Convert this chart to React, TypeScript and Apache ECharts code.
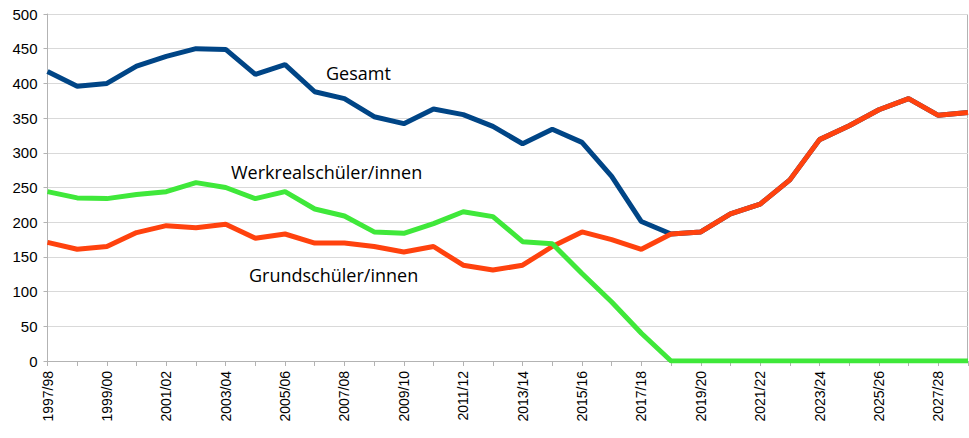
import React, { useEffect, useRef } from "react";
import * as echarts from "echarts";

const years: string[] = [
  "1997/98","1998/99","1999/00","2000/01","2001/02","2002/03","2003/04","2004/05",
  "2005/06","2006/07","2007/08","2008/09","2009/10","2010/11","2011/12","2012/13",
  "2013/14","2014/15","2015/16","2016/17","2017/18","2018/19","2019/20","2020/21",
  "2021/22","2022/23","2023/24","2024/25","2025/26","2026/27","2027/28","2028/29",
];

const gesamt: number[] = [
  417, 396, 400, 425, 439, 450, 449, 413, 427, 388, 378, 352, 342, 363, 355, 338,
  313, 334, 315, 266, 201, 183, 186, 212, 226, 261, 319, 339, 362, 378, 354, 358,
];

const grundschueler: number[] = [
  171, 161, 165, 185, 195, 192, 197, 177, 183, 170, 170, 165, 157, 165, 138, 131,
  138, 165, 186, 175, 161, 183, 186, 212, 226, 261, 319, 339, 362, 378, 354, 358,
];

const werkrealschueler: number[] = [
  244, 235, 234, 240, 244, 257, 250, 234, 244, 219, 209, 186, 184, 198, 215, 208,
  172, 169, 126, 85, 40, 0, 0, 0, 0, 0, 0, 0, 0, 0, 0, 0,
];

const seriesNames = ["Gesamt", "Werkrealschüler/innen", "Grundschüler/innen"];

export default function App() {
  const ref = useRef<HTMLDivElement>(null);
  useEffect(() => {
    if (!ref.current) return;
    const chart = echarts.init(ref.current, null, { renderer: "svg" });
    const labelFont = "'Open Sans', 'Noto Sans', sans-serif";
    chart.setOption({
      animation: false,
      backgroundColor: "#ffffff",
      grid: { left: 47.5, right: 1, top: 14, bottom: 77, containLabel: false },
      xAxis: {
        type: "category",
        data: years,
        boundaryGap: false,
        axisLine: { show: true, lineStyle: { color: "#b3b3b3", width: 1 } },
        axisTick: { show: true, interval: 0, length: 5, lineStyle: { color: "#b3b3b3" } },
        axisLabel: {
          interval: 1,
          rotate: 90,
          margin: 10,
          fontSize: 14,
          color: "#000000",
          fontFamily: "'Liberation Sans', Arial, sans-serif",
        },
        splitLine: { show: false },
      },
      yAxis: {
        type: "value",
        min: 0,
        max: 500,
        interval: 50,
        axisLine: { show: true, lineStyle: { color: "#b3b3b3", width: 1 } },
        axisTick: { show: true, length: 4, lineStyle: { color: "#b3b3b3" } },
        axisLabel: {
          fontSize: 15,
          margin: 10,
          color: "#000000",
          fontFamily: "'Liberation Sans', Arial, sans-serif",
        },
        splitLine: { show: true, lineStyle: { color: "#d9d9d9", width: 1 } },
      },
      series: [
        {
          name: seriesNames[0],
          type: "line",
          data: gesamt,
          symbol: "none",
          lineStyle: { color: "#004586", width: 5 },
          z: 2,
        },
        {
          name: seriesNames[2],
          type: "line",
          data: grundschueler,
          symbol: "none",
          lineStyle: { color: "#ff420e", width: 5 },
          z: 3,
        },
        {
          name: seriesNames[1],
          type: "line",
          data: werkrealschueler,
          symbol: "none",
          lineStyle: { color: "#3fe83a", width: 5 },
          z: 4,
        },
      ],
      graphic: [
        {
          type: "rect",
          left: 967,
          top: 14,
          shape: { x: 0, y: 0, width: 1, height: 347 },
          style: { fill: "#b3b3b3" },
          silent: true,
        },
        {
          type: "text",
          x: 326,
          y: 64,
          style: { text: seriesNames[0], fontSize: 18, fill: "#000000", fontFamily: labelFont },
          z: 10,
        },
        {
          type: "text",
          x: 231,
          y: 163,
          style: { text: seriesNames[1], fontSize: 18, fill: "#000000", fontFamily: labelFont },
          z: 10,
        },
        {
          type: "text",
          x: 249,
          y: 266,
          style: { text: seriesNames[2], fontSize: 18, fill: "#000000", fontFamily: labelFont },
          z: 10,
        },
      ],
    });
    return () => chart.dispose();
  }, []);
  return (
    <div
      ref={ref}
      style={{ position: "absolute", left: 0, top: 0, width: 969, height: 438 }}
    />
  );
}
